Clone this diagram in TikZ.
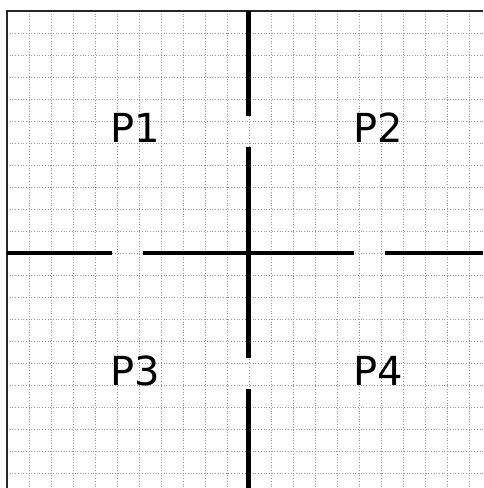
\documentclass[tikz,border=0pt]{standalone}
\usepackage{fontspec}
\setmainfont{DejaVu Sans}
\tikzset{
  gridline/.style={gray!80, dotted, line width=0.7pt},
  frameline/.style={black!85, line width=2pt},
  axisline/.style={black, line width=4.6pt},
  label/.style={font=\fontsize{40}{40}\selectfont, inner sep=0pt, anchor=center}
}
\begin{document}
\begin{tikzpicture}[x=1pt,y=-1pt]
\useasboundingbox (0,0) rectangle (483,488);
\begin{scope}
\clip (0,0) rectangle (483,488);
% grid
\foreach \k in {1,...,22} {
  \draw[gridline] ({7+22*\k},11) -- ({7+22*\k},488);
  \draw[gridline] (7,{11+22*\k}) -- (483,{11+22*\k});
}
% frame (left and top)
\draw[frameline] (7,488) -- (7,11) -- (483,11);
% horizontal axis with gaps
\coordinate (hA) at (7,253);
\coordinate (hB) at (112,253);
\coordinate (hC) at (142.5,253);
\coordinate (hD) at (354,253);
\coordinate (hE) at (384.5,253);
\coordinate (hF) at (483,253);
\draw[axisline] (hA) -- (hB);
\draw[axisline] (hC) -- (hD);
\draw[axisline] (hE) -- (hF);
% vertical axis with gaps
\coordinate (vA) at (248.5,11);
\coordinate (vB) at (248.5,116);
\coordinate (vC) at (248.5,147);
\coordinate (vD) at (248.5,357.5);
\coordinate (vE) at (248.5,389);
\coordinate (vF) at (248.5,488);
\draw[axisline] (vA) -- (vB);
\draw[axisline] (vC) -- (vD);
\draw[axisline] (vE) -- (vF);
\end{scope}
% labels
\node[label] (p1) at (135.5,128) {P1};
\node[label] (p2) at (378.5,128) {P2};
\node[label] (p3) at (135.5,371) {P3};
\node[label] (p4) at (378.5,371) {P4};
\end{tikzpicture}
\end{document}
